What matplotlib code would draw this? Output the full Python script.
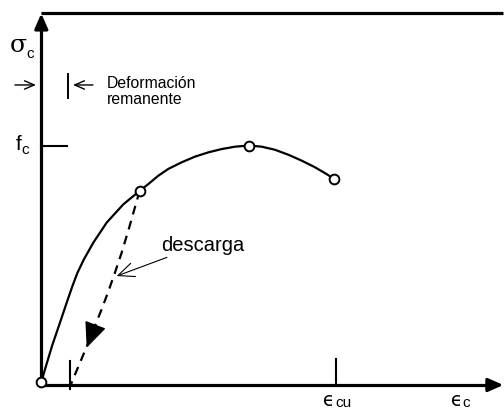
import matplotlib
matplotlib.use("Agg")
import matplotlib.pyplot as plt

# ---- data (strain in arbitrary units, stress normalised by f_c) ----
curve_eps = [0.0, 0.048, 0.109, 0.190, 0.258, 0.317, 0.368, 0.434, 0.529, 0.665,
             0.834, 1.0, 1.089, 1.19, 1.292, 1.428, 1.564, 1.699, 1.835, 1.971,
             2.113, 2.242, 2.377, 2.513, 2.649, 2.784, 2.903, 2.981]
curve_sig = [0.0, 0.068, 0.152, 0.251, 0.335, 0.406, 0.462, 0.519, 0.589, 0.674,
             0.751, 0.808, 0.837, 0.872, 0.901, 0.929, 0.953, 0.971, 0.985, 0.995,
             1.0, 0.995, 0.982, 0.961, 0.936, 0.908, 0.879, 0.858]
marker_eps = [0.0, 1.0, 2.113, 2.981]
marker_sig = [0.0, 0.808, 1.0, 0.858]
unload_eps = [1.0, 0.890, 0.816, 0.748, 0.694, 0.623, 0.546, 0.460, 0.394, 0.328, 0.304]
unload_sig = [0.808, 0.647, 0.545, 0.461, 0.397, 0.317, 0.237, 0.148, 0.082, 0.017, -0.008]
f_c = 1.0
eps_cu = 3.0
eps_rem = 0.297

plt.rcParams['font.family'] = ['Liberation Sans', 'DejaVu Sans']

fig = plt.figure(figsize=(5.04, 4.10), dpi=100)
ax = fig.add_axes([0, 0, 1, 1])
ax.set_xlim(-0.4201, 4.707)
ax.set_ylim(-0.1142, 1.6195)
ax.axis('off')

y_axis = -0.0127
head = '-|>,head_length=0.9,head_width=0.4'
# axes with arrowheads
ax.plot([0, 0], [y_axis, 1.50], color='black', lw=2.3, solid_capstyle='butt')
ax.annotate('', xy=(0, 1.558), xytext=(0, 1.49),
            arrowprops=dict(arrowstyle=head, color='black', lw=2.3,
                            shrinkA=0, shrinkB=0))
ax.plot([-0.01, 4.62], [y_axis, y_axis], color='black', lw=2.3,
        solid_capstyle='butt')
ax.annotate('', xy=(4.70, y_axis), xytext=(4.60, y_axis),
            arrowprops=dict(arrowstyle=head, color='black', lw=2.3,
                            shrinkA=0, shrinkB=0))
# top frame line
ax.plot([0, 4.697], [1.560, 1.560], color='black', lw=2.3, solid_capstyle='butt')

# ticks
ax.plot([0, 0.261], [f_c, f_c], color='black', lw=1.5)
ax.plot([eps_cu, eps_cu], [y_axis, 0.097], color='black', lw=1.5)
ax.plot([eps_rem, eps_rem], [-0.030, 0.089], color='black', lw=1.5)

# main curve
ax.plot(curve_eps, curve_sig, color='black', lw=1.6, zorder=3,
        solid_joinstyle='round')
# unloading
ax.plot(unload_eps, unload_sig, color='black', lw=1.6, ls=(0, (4, 3)), zorder=3)
ax.annotate('', xy=(0.462, 0.145), xytext=(0.546, 0.237),
            arrowprops=dict(arrowstyle='-|>,head_length=0.8,head_width=0.35',
                            color='black', lw=1.0, shrinkA=0, shrinkB=0,
                            mutation_scale=20))
ax.plot(marker_eps, marker_sig, ls='none', marker='o', ms=7, mfc='white',
        mec='black', mew=1.4, zorder=5)

# descarga annotation
ax.annotate('descarga', xy=(0.767, 0.448), xytext=(1.218, 0.583),
            fontsize=14.5, va='center', ha='left',
            arrowprops=dict(arrowstyle='->,head_length=0.8,head_width=0.35',
                            color='black', lw=0.8, shrinkA=2, shrinkB=0))

# remanent strain indicator
y_ind = 1.256
thin = '->,head_length=0.7,head_width=0.3'
ax.annotate('', xy=(-0.054, y_ind), xytext=(-0.268, y_ind),
            arrowprops=dict(arrowstyle=thin, color='black', lw=1.0,
                            shrinkA=0, shrinkB=0))
ax.plot([0.272, 0.272], [1.201, 1.302], color='black', lw=1.4)
ax.annotate('', xy=(0.322, y_ind), xytext=(0.526, y_ind),
            arrowprops=dict(arrowstyle=thin, color='black', lw=1.0,
                            shrinkA=0, shrinkB=0))
ax.text(0.668, 1.232, 'Deformación\nremanente', fontsize=11.3, va='center',
        ha='left', linespacing=1.05)

# labels
ax.text(-0.325, 1.425, 'σ', family=['DejaVu Serif'], fontsize=18,
        ha='left', va='center')
ax.text(-0.155, 1.392, 'c', fontsize=11, ha='left', va='center')
ax.text(-0.255, f_c + 0.008, 'f', fontsize=15, ha='left', va='center')
ax.text(-0.2, f_c - 0.015, 'c', fontsize=11, ha='left', va='center')
ax.text(eps_cu - 0.13, -0.073, 'ϵ', family=['DejaVu Sans'], fontsize=13.5,
        ha='left', va='center')
ax.text(eps_cu - 0.01, -0.085, 'cu', fontsize=11, ha='left', va='center')
ax.text(4.17, -0.073, 'ϵ', family=['DejaVu Sans'], fontsize=13.5,
        ha='left', va='center')
ax.text(4.285, -0.085, 'c', fontsize=11, ha='left', va='center')

fig.savefig('out.png', dpi=100)
